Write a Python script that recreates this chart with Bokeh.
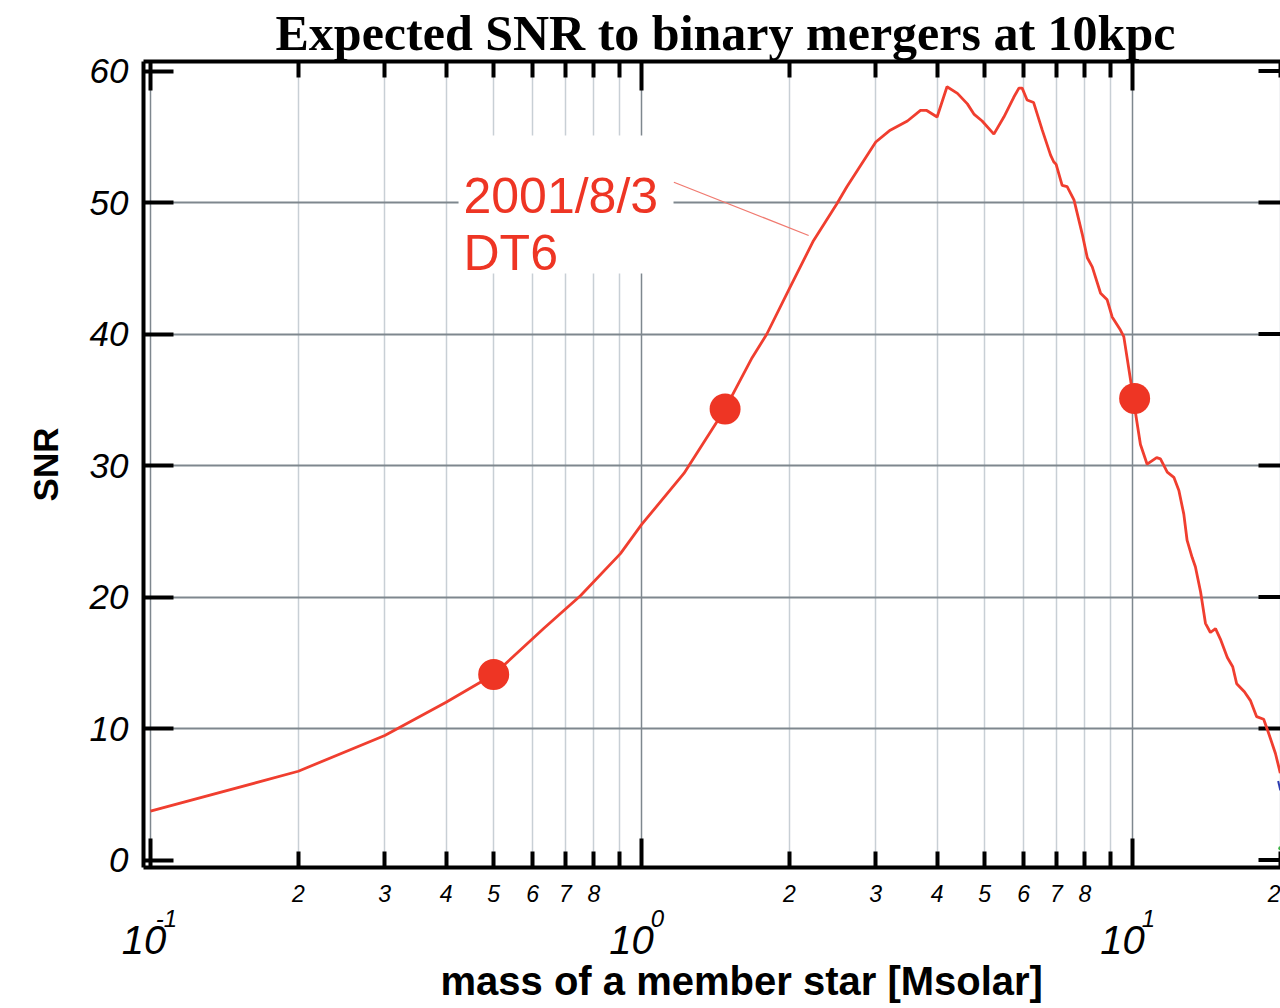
from bokeh.plotting import figure
from bokeh.models import FixedTicker, LogAxis, Label, Title
from bokeh.embed import file_html
from bokeh.resources import INLINE

# ---------------- data ----------------
mass = [0.1, 0.2, 0.3, 0.4, 0.5, 0.632, 0.751, 0.906, 1.0, 1.22, 1.48, 1.68, 1.80,
        2.01, 2.24, 2.50, 2.62, 3.00, 3.21, 3.48, 3.70, 3.81, 4.0, 4.19, 4.40, 4.61,
        4.76, 4.94, 5.22, 5.47, 5.73, 5.87, 5.96, 6.10, 6.29, 6.55, 6.81, 6.91, 6.99,
        7.19, 7.36, 7.60, 7.90, 8.09, 8.28, 8.61, 8.88, 9.09, 9.45, 9.60, 9.91, 10.2,
        10.38, 10.71, 11.2, 11.4, 11.77, 12.14, 12.43, 12.72, 12.92, 13.23, 13.43,
        13.76, 14.08, 14.41, 14.76, 15.1, 15.6, 16.0, 16.3, 16.9, 17.4, 17.9, 18.5,
        18.95, 19.55, 20.0]
snr = [3.71, 6.75, 9.47, 12.0, 14.1, 17.6, 20.1, 23.3, 25.5, 29.4, 34.3, 38.2, 40.0,
       43.6, 47.1, 49.9, 51.2, 54.6, 55.5, 56.2, 57.0, 57.0, 56.5, 58.8, 58.3, 57.5,
       56.7, 56.2, 55.2, 56.5, 58.0, 58.7, 58.7, 57.8, 57.6, 55.5, 53.6, 53.1, 52.9,
       51.3, 51.2, 50.2, 47.6, 45.8, 45.1, 43.1, 42.6, 41.3, 40.3, 39.8, 36.5, 33.4,
       31.6, 30.1, 30.6, 30.5, 29.5, 29.1, 28.1, 26.3, 24.3, 23.0, 22.3,
       20.4, 18.0, 17.3, 17.6, 16.8, 15.4, 14.7, 13.4, 12.8, 12.1, 10.9, 10.7,
       9.6, 8.1, 6.6]

# fragments of two other series, only just visible at the right edge
blue_mass = [19.8, 20.0]
blue_snr = [6.0, 5.3]
green_mass = [20.0]
green_snr = [0.9]

marker_mass = [0.5, 1.48, 10.1]
marker_snr = [14.1, 34.3, 35.1]

y_ticks = [0, 10, 20, 30, 40, 50, 60]
y_grid = [10, 20, 30, 40, 50]
x_major = [0.1, 1, 10]
x_major_base = ["10", "10", "10"]
x_major_exp = ["-1", "0", "1"]
x_minor = [0.2, 0.3, 0.4, 0.5, 0.6, 0.7, 0.8, 0.9,
           2, 3, 4, 5, 6, 7, 8, 9, 20]
x_minor_text = ["2", "3", "4", "5", "6", "7", "8", " ",
                "2", "3", "4", "5", "6", "7", "8", " ", "2"]

title_text = "Expected SNR to binary mergers at 10kpc"
xlabel_text = "mass of a member star  [Msolar]"
ylabel_text = "SNR"
note_lines = ["2001/8/3", "DT6"]

# ---------------- styling / layout ----------------
RED = "#ee3524"
SANS = "Liberation Sans"
SERIF = "Liberation Serif"

W, H = 1280, 1008
FL, FT, FB = 143, 61, 867    # frame edges in page pixels
FW = W - FL
FH = FB - FT
D = 491.0                    # px per decade
X0PX = 7.0                   # px from frame left to x=0.1
x_start = 10 ** (-1 - X0PX / D)
x_end = 10 ** (-1 + (FW - X0PX) / D)
PPU = 13.15                  # px per SNR unit
y_start = -(7.5 / PPU)
y_end = y_start + FH / PPU
x_rtick = 10 ** (-1 + (FW - X0PX - 22) / D)   # start of right-side inward ticks

def px_shift(v, dpx):
    """value located dpx pixels to the right of v on the log axis"""
    return v * 10 ** (dpx / D)

# horizontal label offsets (px) of the decade label parts
base_dx = [-6.5, -10, -10]
sup_dx = [16, 16, 16]

p = figure(width=W, height=H, x_axis_type="log", title=None,
           x_range=(x_start, x_end), y_range=(y_start, y_end),
           output_backend="svg", toolbar_location=None,
           min_border_left=FL, min_border_right=0,
           min_border_top=FT, min_border_bottom=H - FB)
p.outline_line_color = None
p.background_fill_color = "white"
p.border_fill_color = "white"

bx = p.below[0]
ly = p.left[0]

# --- top axis: decades major, 2..9 minor, ticks inward, no labels
tx = LogAxis(ticker=FixedTicker(ticks=x_major, minor_ticks=x_minor))
tx.major_tick_in = 29
tx.major_tick_out = 0
tx.minor_tick_in = 16
tx.minor_tick_out = 0
tx.axis_line_width = 4
tx.major_tick_line_width = 4
tx.minor_tick_line_width = 4
tx.major_label_text_font_size = "2px"
tx.major_label_text_color = None
tx.major_label_standoff = 0
p.add_layout(tx, "above")

# --- bottom axis 1: 2..9 labelled (as "major"), decades as long ticks (as "minor")
bx.ticker = FixedTicker(ticks=x_minor, minor_ticks=x_major)
bx.major_label_overrides = {v: t for v, t in zip(x_minor, x_minor_text)}
bx.major_tick_in = 16
bx.major_tick_out = 0
bx.minor_tick_in = 29
bx.minor_tick_out = 0
bx.axis_line_width = 4
bx.major_tick_line_width = 4
bx.minor_tick_line_width = 4
bx.major_label_standoff = 13
bx.major_label_text_font = SANS
bx.major_label_text_font_style = "italic"
bx.major_label_text_font_size = "23px"
bx.major_label_text_color = "black"

def label_only_axis(ticks, texts, size, standoff):
    ax = LogAxis(ticker=FixedTicker(ticks=ticks, minor_ticks=[]))
    ax.major_label_overrides = {v: t for v, t in zip(ticks, texts)}
    ax.axis_line_color = None
    ax.major_tick_line_color = None
    ax.minor_tick_line_color = None
    ax.major_tick_in = 0
    ax.major_tick_out = 0
    ax.major_label_standoff = standoff
    ax.major_label_text_font = SANS
    ax.major_label_text_font_style = "italic"
    ax.major_label_text_font_size = size
    ax.major_label_text_color = "black"
    return ax

# --- bottom axis 2: exponents of the decade labels (superscripts)
sup_ticks = [px_shift(v, dx) for v, dx in zip(x_major, sup_dx)]
p.add_layout(label_only_axis(sup_ticks, x_major_exp, "24px", 0), "below")
# --- bottom axis 3: "10" bases of the decade labels
base_ticks = [px_shift(v, dx) for v, dx in zip(x_major, base_dx)]
p.add_layout(label_only_axis(base_ticks, x_major_base, "40px", -4), "below")

# x-axis label
p.add_layout(Title(text=xlabel_text, align="left", offset=297, standoff=0,
                   text_font=SANS, text_font_style="bold",
                   text_font_size="40px", text_color="black"), "below")

# --- left axis
ly.ticker = FixedTicker(ticks=y_ticks, minor_ticks=[])
ly.major_tick_in = 30
ly.major_tick_out = 0
ly.minor_tick_line_color = None
ly.axis_line_width = 4
ly.major_tick_line_width = 4
ly.major_label_standoff = 15
ly.major_label_text_font = SANS
ly.major_label_text_font_style = "italic"
ly.major_label_text_font_size = "35px"
ly.major_label_text_color = "black"

p.add_layout(Title(text=ylabel_text, align="center", standoff=43,
                   text_font=SANS, text_font_style="bold",
                   text_font_size="35px", text_color="black"), "left")

# --- title
p.add_layout(Title(text=title_text, align="left", offset=132, standoff=2,
                   text_font=SERIF, text_font_style="bold",
                   text_font_size="50px", text_color="black"), "above")

# grids (x grid follows bottom axis 1: major = 2..9 light, minor = decades dark)
p.xgrid.grid_line_color = "#c8cfd5"
p.xgrid.grid_line_width = 1.5
p.xgrid.minor_grid_line_color = "#7e878e"
p.xgrid.minor_grid_line_width = 1.5
p.ygrid.ticker = FixedTicker(ticks=y_grid, minor_ticks=[])
p.ygrid.grid_line_color = "#7e878e"
p.ygrid.grid_line_width = 2

# right-side inward ticks
p.segment(x0=[x_rtick] * len(y_ticks), y0=y_ticks,
          x1=[x_end] * len(y_ticks), y1=y_ticks,
          line_color="black", line_width=4)

# white box behind the annotation
p.quad(left=[0.424], right=[1.162], top=[55.1], bottom=[44.6],
       fill_color="white", line_color=None)
# leader line
p.segment(x0=[1.164], y0=[51.54], x1=[2.19], y1=[47.49],
          line_color="#f07a70", line_width=1.3)

# other series fragments
p.line(blue_mass, blue_snr, line_color="#2b3bb0", line_width=2)
p.scatter(green_mass, green_snr, size=4, fill_color="#3cb043", line_color=None)

# main curve and markers
p.line(mass, snr, line_color="#f03e2f", line_width=2.8)
p.scatter(marker_mass, marker_snr, size=31, fill_color=RED, line_color=None)

# annotation text
p.add_layout(Label(x=320, y=672, x_units="screen", y_units="screen",
                   text=note_lines[0], text_font=SANS, text_font_size="50px",
                   text_color=RED, text_align="left", text_baseline="alphabetic"))
p.add_layout(Label(x=320, y=615, x_units="screen", y_units="screen",
                   text=note_lines[1], text_font=SANS, text_font_size="50px",
                   text_color=RED, text_align="left", text_baseline="alphabetic"))

open("out.html", "w").write(file_html(p, INLINE))
